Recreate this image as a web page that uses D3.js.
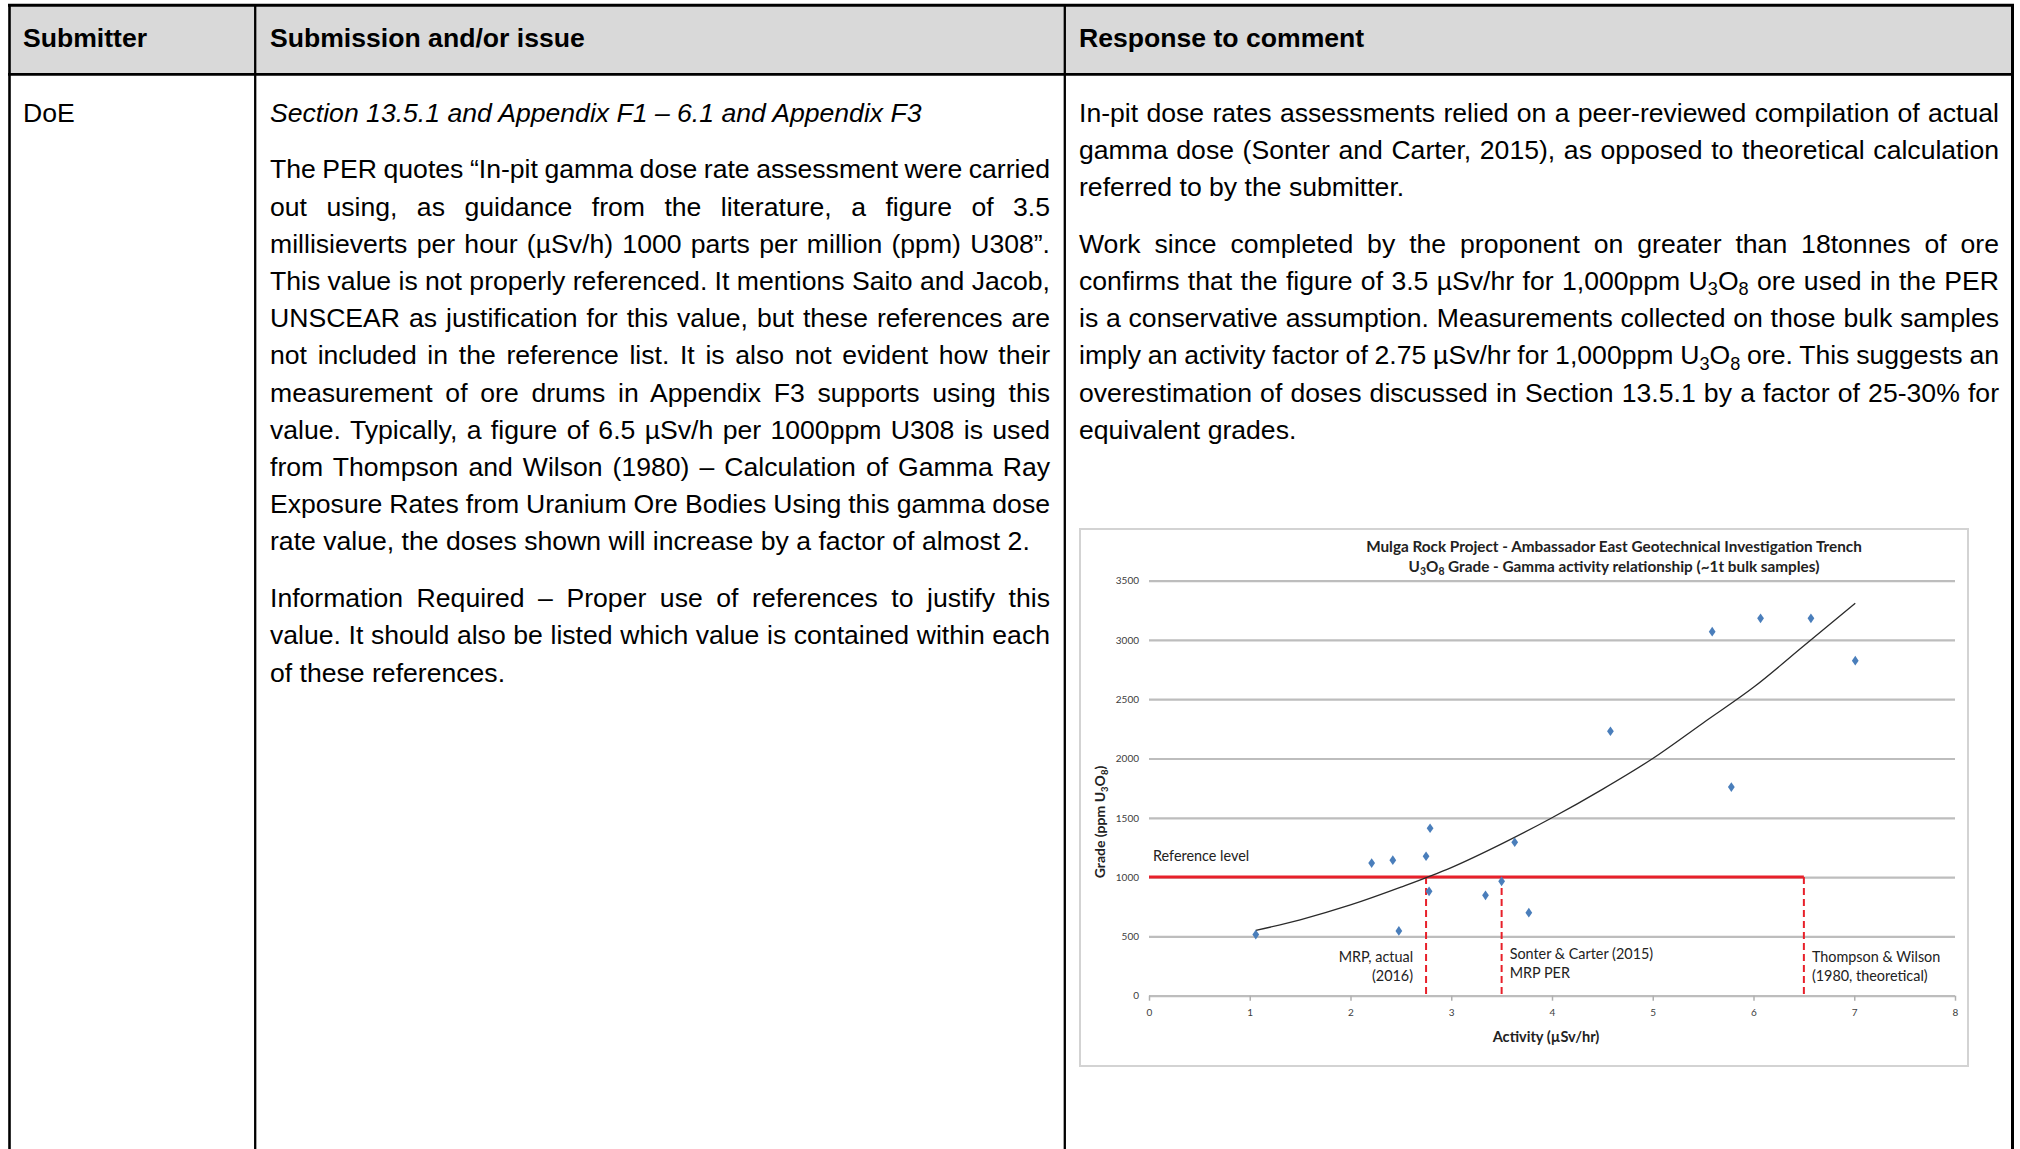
<!DOCTYPE html>
<html>
<head>
<meta charset="utf-8">
<script src="https://cdn.jsdelivr.net/npm/d3@7"></script>
<style>
  html, body { margin: 0; padding: 0; background: #fff; }
  svg { display: block; }
</style>
</head>
<body>
<svg id="page"></svg>
<script>
// ── table text ──────────────────────────────────────────────────────────────
const headers = ["Submitter", "Submission and/or issue", "Response to comment"];
const submitter = "DoE";
const issueHeading = "Section 13.5.1 and Appendix F1 – 6.1 and Appendix F3";
const issueParas = [
  [
    "The PER quotes “In-pit gamma dose rate assessment were carried",
    "out using, as guidance from the literature, a figure of 3.5",
    "millisieverts per hour (µSv/h) 1000 parts per million (ppm) U308”.",
    "This value is not properly referenced. It mentions Saito and Jacob,",
    "UNSCEAR as justification for this value, but these references are",
    "not included in the reference list. It is also not evident how their",
    "measurement of ore drums in Appendix F3 supports using this",
    "value. Typically, a figure of 6.5 µSv/h per 1000ppm U308 is used",
    "from Thompson and Wilson (1980) – Calculation of Gamma Ray",
    "Exposure Rates from Uranium Ore Bodies Using this gamma dose",
    "rate value, the doses shown will increase by a factor of almost 2."
  ],
  [
    "Information Required – Proper use of references to justify this",
    "value. It should also be listed which value is contained within each",
    "of these references."
  ]
];
const responseParas = [
  [
    "In-pit dose rates assessments relied on a peer-reviewed compilation of actual",
    "gamma dose (Sonter and Carter, 2015), as opposed to theoretical calculation",
    "referred to by the submitter."
  ],
  [
    "Work since completed by the proponent on greater than 18tonnes of ore",
    "confirms that the figure of 3.5 µSv/hr for 1,000ppm U{3}O{8} ore used in the PER",
    "is a conservative assumption. Measurements collected on those bulk samples",
    "imply an activity factor of 2.75 µSv/hr for 1,000ppm U{3}O{8} ore. This suggests an",
    "overestimation of doses discussed in Section 13.5.1 by a factor of 25-30% for",
    "equivalent grades."
  ]
];

// ── chart data ──────────────────────────────────────────────────────────────
const chartTitle = [
  "Mulga Rock Project - Ambassador East Geotechnical Investigation Trench",
  "U{3}O{8} Grade - Gamma activity relationship (~1t bulk samples)"
];
const xTicks = [0, 1, 2, 3, 4, 5, 6, 7, 8];
const yTicks = [0, 500, 1000, 1500, 2000, 2500, 3000, 3500];
const sampleActivity = [1.06, 2.21, 2.42, 2.48, 2.75, 2.79, 2.78, 3.34, 3.50, 3.63, 3.77, 4.58, 5.78, 5.59, 6.07, 6.57, 7.01];
const sampleGrade    = [515, 1118, 1143, 546, 1176, 1412, 880, 846, 964, 1294, 700, 2230, 1759, 3069, 3182, 3182, 2825];
const trendActivity = [1.06, 1.5, 2.0, 2.5, 3.0, 3.5, 4.0, 4.5, 5.0, 5.5, 6.0, 6.5, 7.01];
const trendGrade    = [550, 640, 765, 915, 1080, 1280, 1500, 1740, 2000, 2300, 2600, 2950, 3310];
const referenceGrade = 1000;
const markerActivity = [2.75, 3.5, 6.5];
const markerLabels = [["MRP, actual", "(2016)"], ["Sonter & Carter (2015)", "MRP PER"], ["Thompson & Wilson", "(1980, theoretical)"]];

const svg = d3.select("#page").attr("width", 2020).attr("height", 1149);
const TABLE_FONT = "'Liberation Sans', Arial, sans-serif";
const CHART_FONT = "Lato, 'Open Sans', sans-serif";
const FS = 26.6;

// writes "U{3}O{8}" style strings into a text node, braces = subscript
function richText(textSel, str, size) {
  const parts = str.split(/(\{[^}]*\})/).filter(s => s.length);
  let shifted = false;
  parts.forEach(p => {
    if (p.startsWith("{")) {
      textSel.append("tspan").attr("font-size", size * 0.68).attr("dy", shifted ? 0 : size * 0.2).text(p.slice(1, -1));
      shifted = true;
    } else {
      textSel.append("tspan").attr("dy", shifted ? -size * 0.2 : 0).text(p);
      shifted = false;
    }
  });
  return str.replace(/[{}]/g, "");
}

// ── table ───────────────────────────────────────────────────────────────────
const colX = [9.5, 255.2, 1064.8, 2012.5];
const textX = [23, 270, 1079];
const textW = [0, 780, 920];
const headTop = 5.3, headBottom = 74.3;

svg.append("rect").attr("x", colX[0]).attr("y", headTop).attr("width", colX[3] - colX[0]).attr("height", headBottom - headTop).attr("fill", "#d9d9d9");

const table = svg.append("g").attr("font-family", TABLE_FONT).attr("font-size", FS).attr("fill", "#000");
headers.forEach((h, i) => {
  table.append("text").attr("x", textX[i]).attr("y", 47).attr("font-weight", "bold").text(h);
});
table.append("text").attr("x", textX[0]).attr("y", 121.5).text(submitter);
table.append("text").attr("x", textX[1]).attr("y", 121.5).attr("font-style", "italic").text(issueHeading);

const PITCH = 37.2, PARA_GAP = 19.6;
function drawParas(paras, col, startY) {
  let yy = startY;
  paras.forEach(lines => {
    lines.forEach((line, li) => {
      const t = table.append("text").attr("x", textX[col]).attr("y", yy);
      const plain = richText(t, line, FS);
      if (li < lines.length - 1) {
        const spaces = (plain.match(/ /g) || []).length;
        const natural = t.node().getComputedTextLength();
        if (spaces) t.attr("word-spacing", (textW[col] - natural) / spaces);
      }
      yy += PITCH;
    });
    yy += PARA_GAP;
  });
}
drawParas(issueParas, 1, 121.5 + PITCH + PARA_GAP);
drawParas(responseParas, 2, 121.5);

// borders
const borders = svg.append("g").attr("stroke", "#000");
borders.append("line").attr("x1", 8).attr("x2", 2014).attr("y1", headTop).attr("y2", headTop).attr("stroke-width", 3);
borders.append("line").attr("x1", 8).attr("x2", 2014).attr("y1", headBottom).attr("y2", headBottom).attr("stroke-width", 2.7);
[[colX[0], 2.6], [colX[1], 2.3], [colX[2], 2.3], [colX[3], 3]].forEach(([cx, w]) => {
  borders.append("line").attr("x1", cx).attr("x2", cx).attr("y1", 4).attr("y2", 1149).attr("stroke-width", w);
});

// ── chart ───────────────────────────────────────────────────────────────────
const chart = svg.append("g").attr("font-family", CHART_FONT);
chart.append("rect").attr("x", 1080).attr("y", 529).attr("width", 888).attr("height", 537)
  .attr("fill", "#fff").attr("stroke", "#d3d3d3").attr("stroke-width", 2);

const x = d3.scaleLinear().domain([0, 8]).range([1149, 1955]);
const y = d3.scaleLinear().domain([0, 3500]).range([995.7, 580.6]);

chart.selectAll("text.title").data(chartTitle).join("text").attr("class", "title")
  .attr("x", 1614).attr("y", (d, i) => 552 + i * 20).attr("text-anchor", "middle")
  .attr("font-weight", "bold").attr("font-size", 15.3).attr("fill", "#222")
  .each(function(d) { richText(d3.select(this), d, 15.3); });

const yAxis = chart.append("g").attr("transform", `translate(${x(0)},0)`)
  .call(d3.axisLeft(y).tickValues(yTicks).tickFormat(d3.format("d")).tickSize(-(x(8) - x(0))).tickPadding(10));
yAxis.select(".domain").remove();
yAxis.selectAll(".tick line").attr("stroke", "#bdbdbd").attr("stroke-width", 2.2);
yAxis.selectAll(".tick text").attr("font-family", CHART_FONT).attr("font-size", 10).attr("fill", "#404040");

const xAxis = chart.append("g").attr("transform", `translate(0,${y(0)})`)
  .call(d3.axisBottom(x).tickValues(xTicks).tickFormat(d3.format("d")).tickSize(5).tickPadding(8));
xAxis.select(".domain").remove();
xAxis.selectAll(".tick line").attr("stroke", "#b0b0b0").attr("stroke-width", 1.5);
xAxis.selectAll(".tick text").attr("font-family", CHART_FONT).attr("font-size", 10).attr("fill", "#404040");

chart.append("text").attr("x", 1546).attr("y", 1042).attr("text-anchor", "middle")
  .attr("font-weight", "bold").attr("font-size", 14.6).attr("fill", "#222").text("Activity (µSv/hr)");
const yTitle = chart.append("text").attr("transform", "translate(1105,822) rotate(-90)").attr("text-anchor", "middle")
  .attr("font-weight", "bold").attr("font-size", 14).attr("fill", "#222");
richText(yTitle, "Grade (ppm U{3}O{8})", 14);

// reference level and markers
const red = "#e8202a";
chart.append("line").attr("x1", x(0)).attr("x2", x(d3.max(markerActivity)))
  .attr("y1", y(referenceGrade)).attr("y2", y(referenceGrade)).attr("stroke", red).attr("stroke-width", 3);
chart.selectAll("line.marker").data(markerActivity).join("line").attr("class", "marker")
  .attr("x1", d => x(d)).attr("x2", d => x(d)).attr("y1", y(referenceGrade)).attr("y2", y(0))
  .attr("stroke", red).attr("stroke-width", 2).attr("stroke-dasharray", "7,4");
chart.append("text").attr("x", 1153).attr("y", 861).attr("font-size", 14.4).attr("fill", "#222").text("Reference level");

markerActivity.forEach((a, i) => {
  const left = i === 0;
  const t = chart.append("text").attr("font-size", 14.4).attr("fill", "#222")
    .attr("text-anchor", left ? "end" : "start");
  markerLabels[i].forEach((s, j) => {
    t.append("tspan").attr("x", left ? x(a) - 13 : x(a) + 8).attr("y", [962, 959, 962][i] + j * 18.5).text(s);
  });
});

// trend line and samples
const trend = trendActivity.map((a, i) => [a, trendGrade[i]]);
chart.append("path").datum(trend).attr("fill", "none").attr("stroke", "#2a2a2a").attr("stroke-width", 1.3)
  .attr("d", d3.line().x(d => x(d[0])).y(d => y(d[1])).curve(d3.curveMonotoneX));

const samples = sampleActivity.map((a, i) => ({ a, g: sampleGrade[i] }));
chart.selectAll("path.sample").data(samples).join("path").attr("class", "sample")
  .attr("transform", d => `translate(${x(d.a)},${y(d.g)}) scale(1.15,0.95)`)
  .attr("d", d3.symbol(d3.symbolDiamond, 30)).attr("fill", "#4a7ebb");
</script>
</body>
</html>
